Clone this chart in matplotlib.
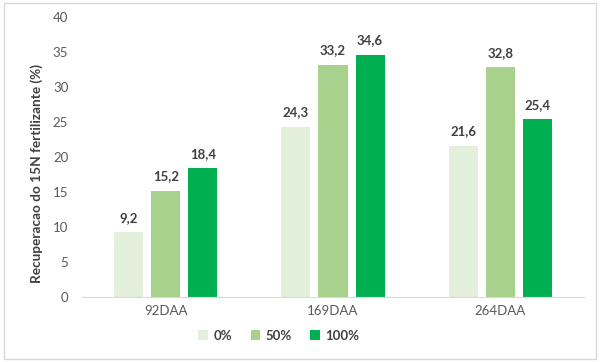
import matplotlib
matplotlib.use("Agg")
import matplotlib.pyplot as plt
from matplotlib.patches import Rectangle
import numpy as np

plt.rcParams['font.family'] = ['Lato', 'DejaVu Sans']

categories = ["92DAA", "169DAA", "264DAA"]
series_names = ["0%", "50%", "100%"]
s0 = [9.2, 24.3, 21.6]
s50 = [15.2, 33.2, 32.8]
s100 = [18.4, 34.6, 25.4]
colors = ["#e2efda", "#a9d18e", "#00b050"]

fig = plt.figure(figsize=(6, 3.62), dpi=100)
ax = fig.add_axes([0.137, 0.180, 0.836, 0.773])

x = np.arange(len(categories))
width = 0.174
step = 0.222
txtc = "#404040"
for i, (vals, name, c) in enumerate(zip([s0, s50, s100], series_names, colors)):
    pos = x + (i - 1) * step
    bars = ax.bar(pos, vals, width, color=c, label=name)
    for p, v in zip(pos, vals):
        ax.text(p, v + 1.2, f"{v:.1f}".replace(".", ","), ha="center", va="bottom",
                fontsize=9.5, fontweight="bold", color=txtc)

ax.set_xlim(-0.5, 2.5)
ax.set_ylim(0, 40)
ax.set_yticks(np.arange(0, 41, 5))
ax.set_xticks(x)
ax.set_xticklabels(categories)
for s in ["top", "right", "left"]:
    ax.spines[s].set_visible(False)
ax.spines["bottom"].set_color("#d9d9d9")
ax.tick_params(axis="both", length=0, labelsize=9.5, colors="#595959")
ax.tick_params(axis="y", pad=10)
ax.tick_params(axis="x", pad=6)
ax.set_ylabel("Recuperacao do 15N fertilizante (%)", fontsize=9.8, fontweight="bold",
              color=txtc)
ax.yaxis.set_label_coords(-0.078, 0.44)

leg = fig.legend(loc="center", bbox_to_anchor=(0.465, 0.073), ncol=3, frameon=False,
                 handlelength=0.75, handleheight=0.75, handletextpad=0.4, columnspacing=1.4,
                 prop={"weight": "bold", "size": 9.5})
for t in leg.get_texts():
    t.set_color(txtc)

fig.patches.append(Rectangle((0.006, 0.008), 0.988, 0.984, transform=fig.transFigure,
                             fill=False, edgecolor="#d9d9d9", linewidth=1))

fig.savefig("out.png", dpi=100)
